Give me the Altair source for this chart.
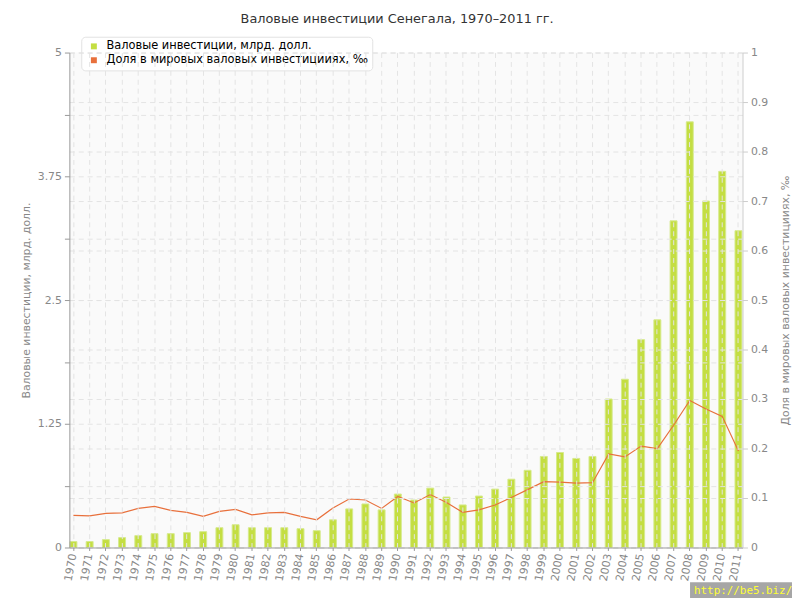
import altair as alt
import pandas as pd

years = [str(y) for y in range(1970, 2012)]
invest = [0.06, 0.06, 0.08, 0.10, 0.12, 0.14, 0.14, 0.15, 0.16, 0.20,
          0.23, 0.20, 0.20, 0.20, 0.19, 0.17, 0.28, 0.39, 0.44, 0.38,
          0.54, 0.48, 0.60, 0.51, 0.43, 0.52, 0.59, 0.69, 0.78, 0.92,
          0.96, 0.90, 0.92, 1.50, 1.70, 2.10, 2.30, 3.30, 4.30, 3.50,
          3.80, 3.20]
share = [0.065, 0.064, 0.069, 0.070, 0.079, 0.083, 0.075, 0.071, 0.063, 0.073,
         0.077, 0.066, 0.070, 0.071, 0.063, 0.056, 0.080, 0.098, 0.096, 0.079,
         0.103, 0.090, 0.107, 0.091, 0.071, 0.076, 0.086, 0.101, 0.117, 0.133,
         0.132, 0.130, 0.131, 0.189, 0.183, 0.205, 0.200, 0.247, 0.297, 0.280,
         0.265, 0.195]

s1 = "Валовые инвестиции, млрд. долл."
s2 = "Доля в мировых валовых инвестицииях, ‰"
left_ticks = [i * 0.625 for i in range(9)]
right_ticks = [round(i * 0.1, 1) for i in range(11)]

df = pd.DataFrame({"year": years, "invest": invest, "share": share,
                   "s1": [s1] * len(years), "s2": [s2] * len(years)})

color_scale = alt.Scale(domain=[s1, s2], range=["#c4de42", "#e8703c"])
FONT = "DejaVu Sans"

x_enc = alt.X("year:N", title=None,
              scale=alt.Scale(paddingInner=0.5, paddingOuter=0.0, align=0.5),
              axis=alt.Axis(labelAngle=-80, labelColor="#888", labelFontSize=11,
                            labelFont=FONT, tickSize=3, tickColor="#999",
                            domainColor="#999", labelPadding=3,
                            grid=True, gridColor="#e4e4e4", gridDash=[5, 4],
                            zindex=1))

bars = alt.Chart(df).mark_bar(size=7, stroke="#d6ea8c", strokeWidth=1).encode(
    x=x_enc,
    y=alt.Y("invest:Q", title=s1,
            scale=alt.Scale(domain=[0, 5], nice=False),
            axis=alt.Axis(values=left_ticks,
                          labelExpr="datum.value % 1.25 == 0 ? '' + datum.value : ''",
                          labelColor="#888", labelFontSize=11, labelFont=FONT,
                          titleColor="#888", titleFontSize=11, titleFont=FONT,
                          titleFontWeight="normal", titlePadding=6,
                          tickSize=5, tickColor="#999", domainColor="#999",
                          labelPadding=3,
                          grid=True, gridColor="#e4e4e4", gridDash=[5, 4],
                          zindex=1)),
    color=alt.Color("s1:N", scale=color_scale, title=None,
                    legend=alt.Legend(symbolType="square")),
)

line = alt.Chart(df).mark_line(strokeWidth=1.2).encode(
    x=alt.X("year:N"),
    y=alt.Y("share:Q", title=s2,
            scale=alt.Scale(domain=[0, 1], nice=False),
            axis=alt.Axis(orient="right", values=right_ticks, format="~g",
                          labelColor="#888", labelFontSize=11, labelFont=FONT,
                          titleColor="#888", titleFontSize=11, titleFont=FONT,
                          titleFontWeight="normal", titlePadding=23,
                          titleAngle=270, titleBaseline="bottom",
                          tickSize=5, tickColor="#ccc", domainColor="#ccc",
                          labelPadding=3,
                          grid=True, gridColor="#e4e4e4", gridDash=[5, 4],
                          zindex=1)),
    color=alt.Color("s2:N", scale=color_scale, title=None),
)

wm_data = alt.Data(values=[{"t": "http://be5.biz/"}])
wm_rect = alt.Chart(wm_data).mark_rect(color="#a6a6a6").encode(
    x=alt.value(627), x2=alt.value(731), y=alt.value(535), y2=alt.value(551))
wm_text = alt.Chart(wm_data).mark_text(color="#ffff33", font="DejaVu Sans Mono",
                                       fontSize=11, align="left",
                                       baseline="alphabetic").encode(
    x=alt.value(631), y=alt.value(547), text="t:N")

chart = alt.layer(bars, line, wm_rect, wm_text).resolve_scale(
    y="independent"
).properties(
    width=680, height=500,
    title=alt.TitleParams("Валовые инвестиции Сенегала, 1970–2011 гг.",
                          font=FONT, fontSize=13, fontWeight="normal",
                          color="#333", anchor="middle", offset=10, dx=-9),
    autosize=alt.AutoSizeParams(type="none"),
    padding={"left": 62, "top": 42, "right": 50, "bottom": 50},
).configure_view(
    fill="#fafafa", stroke=None
).configure_legend(
    orient="none", legendX=12, legendY=-16, padding=4, rowPadding=1,
    fillColor="#ffffff", strokeColor="#e2e2e2", cornerRadius=4,
    symbolSize=36, symbolOffset=3, labelOffset=7, labelFontSize=11.5,
    labelFont=FONT, labelColor="#000", symbolStrokeWidth=0, labelLimit=400,
)

chart.save("out.html", embed_options={"renderer": "svg", "actions": False})
